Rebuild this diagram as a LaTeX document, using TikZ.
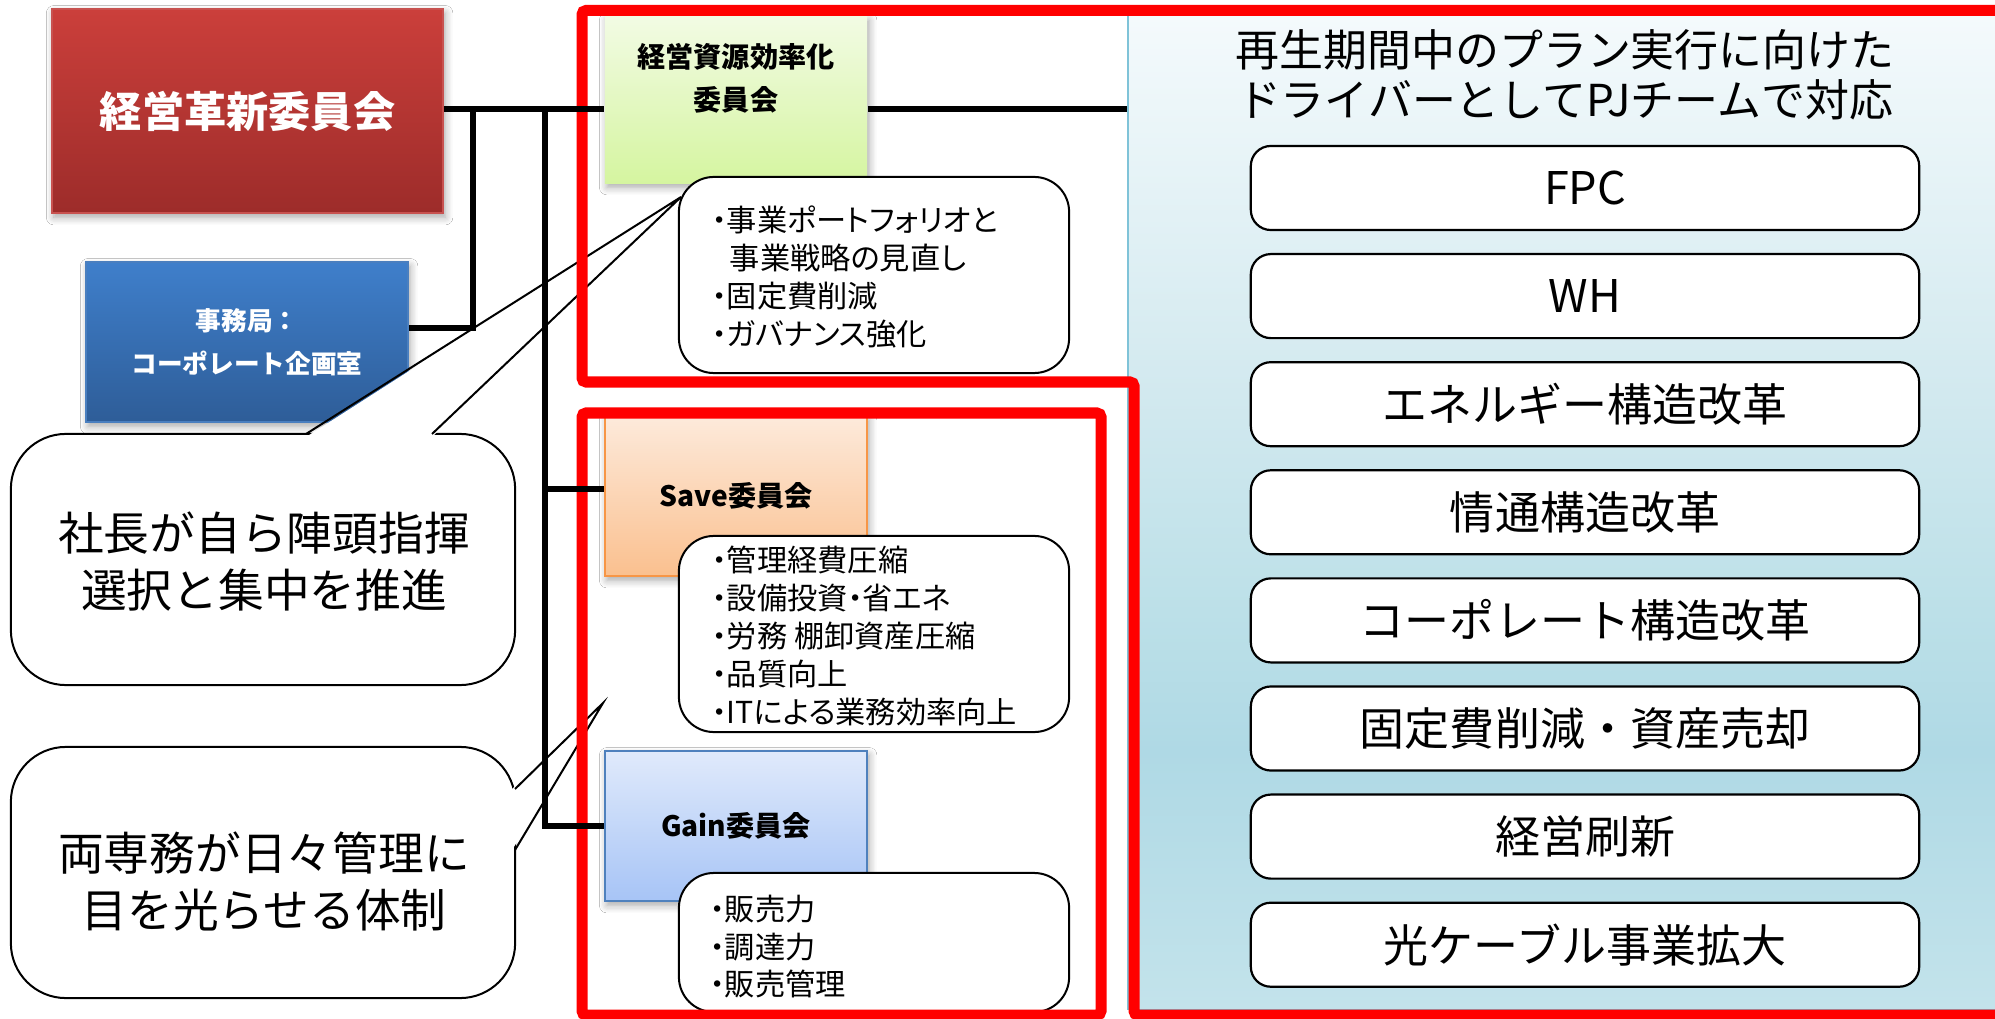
\documentclass[tikz,border=0pt]{standalone}
\usepackage{fontspec}
\setmainfont{Noto Sans CJK JP}
\usetikzlibrary{shadows.blur}
\definecolor{redT}{HTML}{CB3F3B}
\definecolor{redB}{HTML}{9D2C2A}
\definecolor{redE}{HTML}{C85250}
\definecolor{bluT}{HTML}{3F7FCB}
\definecolor{bluB}{HTML}{2E5D98}
\definecolor{bluE}{HTML}{4A7FBF}
\definecolor{grnT}{HTML}{F2FBE4}
\definecolor{grnB}{HTML}{D5F5A0}
\definecolor{orT}{HTML}{FDEADB}
\definecolor{orB}{HTML}{FAC08F}
\definecolor{orE}{HTML}{F79646}
\definecolor{gaT}{HTML}{E0EAFB}
\definecolor{gaB}{HTML}{A7C4F6}
\definecolor{gaE}{HTML}{4F81BD}
\definecolor{frRed}{HTML}{FF0000}
\definecolor{pnT}{HTML}{F4FAFC}
\definecolor{pnM}{HTML}{D2E9EF}
\definecolor{pnC}{HTML}{BCE0E8}
\definecolor{pnD}{HTML}{AFD9E5}
\definecolor{pnB}{HTML}{C3E3EB}
\definecolor{pnE}{HTML}{7FC3D8}
\pgfdeclareverticalshading{panelshade}{100bp}{color(0bp)=(pnB); color(25bp)=(pnB); color(38bp)=(pnD); color(45bp)=(pnC); color(56bp)=(pnM); color(75bp)=(pnT); color(100bp)=(pnT)}
\begin{document}
\begin{tikzpicture}[x=0.01cm, y=-0.01cm,
  cbox/.style={rectangle, inner sep=0pt, align=center},
  shadowed/.style={blur shadow={shadow xshift=0.6pt, shadow yshift=-1.2pt, shadow opacity=35, shadow blur steps=6}},
  conn/.style={line width=0.06cm, black},
  bubble/.style={draw=black, line width=0.02cm, fill=white, rounded corners=0.55cm, minimum width=5.04cm, minimum height=2.51cm, inner sep=0pt},
  btxt/.style={align=center, inner sep=0pt, font=\fontsize{13}{16.2}\selectfont},
  bullbox/.style={draw=black, line width=0.02cm, fill=white, rounded corners=0.35cm, minimum width=3.9cm, inner sep=0pt},
  bul/.style={anchor=west, inner sep=0pt, font=\fontsize{8.6}{10}\selectfont\addfontfeature{RawFeature=+palt}},
  pjbox/.style={draw=black, line width=0.022cm, fill=white, rounded corners=0.2cm, minimum width=6.68cm, minimum height=0.84cm, inner sep=0pt, font=\fontsize{12.8}{15}\selectfont},
  frame/.style={draw=frRed, line width=0.11cm, rounded corners=0.04cm},
  ]
\useasboundingbox (0,0) rectangle (1995,1019);
\fill[white] (0,0) rectangle (1995,1019);

% right panel
\node[inner sep=0pt, minimum width=8.72cm, minimum height=9.93cm, draw=pnE, line width=0.015cm, shade, shading=panelshade] (panel) at (1564,512.5) {};

% coloured boxes
\node[cbox, minimum width=3.91cm, minimum height=2.04cm, top color=redT, bottom color=redB, draw=redE, line width=0.4pt, shadowed, text=white, font=\fontsize{12}{14}\selectfont\bfseries] (kaku) at (247.5,111) {経営革新委員会};
\node[cbox, minimum width=3.22cm, minimum height=1.6cm, top color=bluT, bottom color=bluB, draw=bluE, line width=0.4pt, shadowed, text=white, font=\fontsize{7.3}{12.2}\selectfont\bfseries] (jimu) at (247,342) {事務局：\\コーポレート企画室};
\node[cbox, minimum width=2.62cm, minimum height=1.67cm, top color=grnT, bottom color=grnB, shadowed] (green) at (736,99.5) {};
\node[cbox, font=\fontsize{8}{12.2}\selectfont\bfseries] (gtext) at (736,78.5) {経営資源効率化\\委員会};
\node[cbox, minimum width=2.62cm, minimum height=1.6cm, top color=orT, bottom color=orB, draw=orE, line width=0.5pt, shadowed, font=\fontsize{8}{10}\selectfont\bfseries] (save) at (736,496) {Save委員会};
\node[cbox, minimum width=2.62cm, minimum height=1.5cm, top color=gaT, bottom color=gaB, draw=gaE, line width=0.5pt, shadowed, font=\fontsize{8}{10}\selectfont\bfseries] (gain) at (736,826) {Gain委員会};

% callout bubbles
\node[bubble] (bub1) at (263,559.5) {};
\fill[white] (306,437) -- (681,197) -- (432,437) -- cycle;
\draw[line width=0.02cm] (306,434) -- (681,197) -- (432,434);
\node[btxt] (bt1) at (264,562) {社長が自ら陣頭指揮\\選択と集中を推進};

\node[bubble] (bub2) at (263,872.5) {};
\fill[white] (512,789) -- (603,703) -- (512,850) -- cycle;
\draw[line width=0.02cm] (515,789) -- (603,703) -- (515,850);
\node[btxt] (bt2) at (264,881) {両専務が日々管理に\\目を光らせる体制};

% bullet boxes
\node[bullbox, minimum height=1.96cm] (bb1) at (874,275) {};
\node[bullbox, minimum height=1.96cm] (bb2) at (874,634) {};
\node[bullbox, minimum height=1.39cm] (bb3) at (874,942.5) {};

\node[bul] (l11) at (711,220) {・事業ポートフォリオと};
\node[bul] (l12) at (711,258) {\hspace{0.6em}事業戦略の見直し};
\node[bul] (l13) at (711,296) {・固定費削減};
\node[bul] (l14) at (711,334) {・ガバナンス強化};

\node[bul] (l21) at (711,560) {・管理経費圧縮};
\node[bul] (l22) at (711,598) {・設備投資・省エネ};
\node[bul] (l23) at (711,636) {・労務 棚卸資産圧縮};
\node[bul] (l24) at (711,674) {・品質向上};
\node[bul] (l25) at (711,712) {・ITによる業務効率向上};

\node[bul] (l31) at (709,909) {・販売力};
\node[bul] (l32) at (709,947) {・調達力};
\node[bul] (l33) at (709,984) {・販売管理};

% red frames
\draw[frame] (582,10.5) -- (2010,10.5) -- (2010,1015) -- (1134,1015) -- (1134,382) -- (582,382) -- cycle;
\draw[frame] (582,413) rectangle (1101,1015);

% connectors
\coordinate (mainY) at (0,109);
\coordinate (tA) at (473,109);
\coordinate (tB) at (545,109);
\coordinate (jimuY) at (0,328);
\coordinate (saveY) at (0,489);
\draw[conn] (kaku.east |- mainY) -- (green.west |- mainY);
\draw[conn] (green.east |- mainY) -- (panel.west |- mainY);
\draw[conn] (tA) -- (tA |- jimuY) -- (jimu.east |- jimuY);
\draw[conn] (tB) -- (tB |- gain.west) -- (gain.west);
\draw[conn] (tB |- saveY) -- (save.west |- saveY);

% title and project boxes
\node[align=center, inner sep=0pt, font=\fontsize{12.5}{14.2}\selectfont] (ttl) at (1565,75) {再生期間中のプラン実行に向けた\\ドライバーとしてPJチームで対応};
\foreach \t [count=\i from 0] in {FPC, WH, エネルギー構造改革, 情通構造改革, コーポレート構造改革, 固定費削減・資産売却, 経営刷新, 光ケーブル事業拡大}
  \node[pjbox] (pj\i) at (1585,{188+108.1*\i}) {\t};
\end{tikzpicture}
\end{document}
